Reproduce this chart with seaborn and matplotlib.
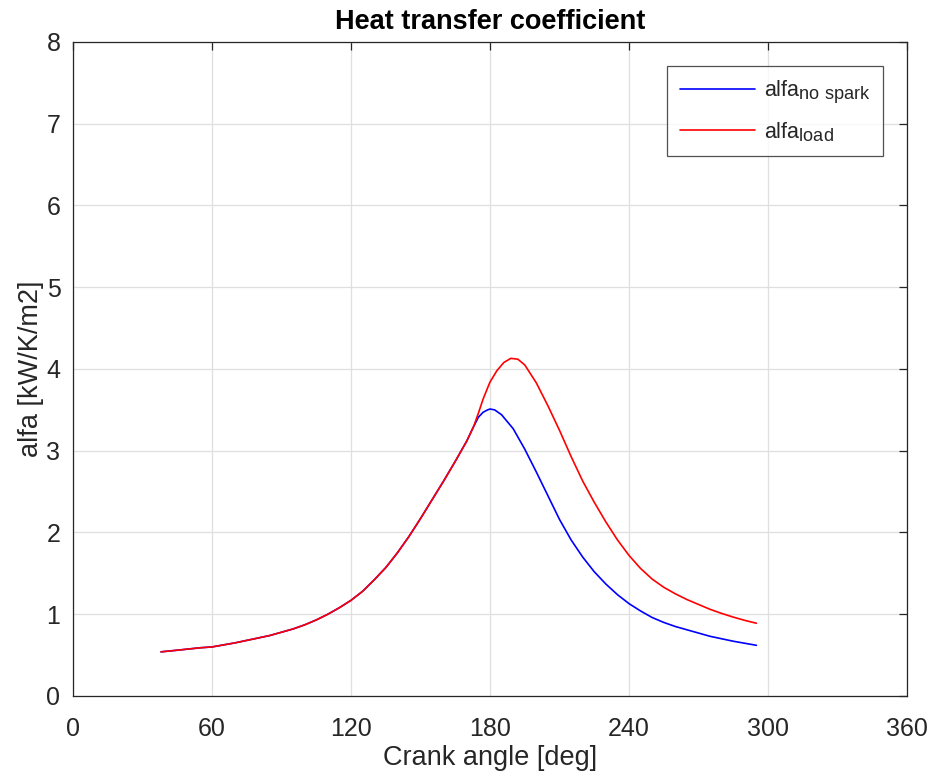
import numpy as np
import pandas as pd
import matplotlib
matplotlib.use("Agg")
import matplotlib.pyplot as plt
import matplotlib._mathtext as _mt
import seaborn as sns

# shared rising branch (both curves coincide)
common_angle = [38, 45, 50, 55, 60, 65, 70, 75, 80, 85, 90, 95, 100, 105, 110,
                115, 120, 125, 130, 135, 140, 145, 150, 155, 160, 165, 170, 173]
common_alfa = [0.54, 0.56, 0.575, 0.59, 0.60, 0.625, 0.65, 0.68, 0.71, 0.74, 0.78,
               0.82, 0.87, 0.93, 1.00, 1.08, 1.17, 1.28, 1.42, 1.57, 1.75, 1.95,
               2.17, 2.40, 2.63, 2.87, 3.12, 3.30]

nospark_angle = [175, 177, 179, 180, 182, 185, 190, 195, 200, 205, 210, 215, 220, 225,
                 230, 235, 240, 245, 250, 255, 260, 265, 270, 275, 280, 285, 290, 295]
nospark_alfa = [3.41, 3.47, 3.50, 3.51, 3.50, 3.44, 3.27, 3.02, 2.74, 2.45, 2.16, 1.91,
                1.70, 1.52, 1.37, 1.24, 1.13, 1.04, 0.96, 0.90, 0.85, 0.81, 0.77,
                0.73, 0.70, 0.67, 0.645, 0.62]

load_angle = [175, 177, 180, 183, 186, 189, 192, 195, 200, 205, 210, 215, 220, 225,
              230, 235, 240, 245, 250, 255, 260, 265, 270, 275, 280, 285, 290, 295]
load_alfa = [3.46, 3.63, 3.84, 3.98, 4.08, 4.13, 4.12, 4.05, 3.83, 3.55, 3.25, 2.93,
             2.63, 2.37, 2.13, 1.91, 1.72, 1.56, 1.43, 1.33, 1.25, 1.18, 1.12, 1.06,
             1.01, 0.965, 0.925, 0.89]

x_ticks = [0, 60, 120, 180, 240, 300, 360]
y_ticks = [0, 1, 2, 3, 4, 5, 6, 7, 8]

lab_ns = r'alfa$_{\mathrm{no\ spark}}$'
lab_ld = r'alfa$_{\mathrm{load}}$'

df = pd.concat([
    pd.DataFrame({"angle": common_angle + nospark_angle,
                  "alfa": common_alfa + nospark_alfa, "series": lab_ns}),
    pd.DataFrame({"angle": common_angle + load_angle,
                  "alfa": common_alfa + load_alfa, "series": lab_ld}),
], ignore_index=True)

sns.set_style("white")
plt.rcParams['font.family'] = ['Liberation Sans', 'DejaVu Sans']
plt.rcParams['mathtext.fontset'] = 'custom'
plt.rcParams['mathtext.rm'] = 'Liberation Sans'
plt.rcParams['mathtext.it'] = 'Liberation Sans:italic'
_mt.SHRINK_FACTOR = 0.84

fig = plt.figure(figsize=(9.31, 7.80), dpi=100)
ax = fig.add_axes([0.0784, 0.1077, 0.8958, 0.8385])

sns.lineplot(data=df, x="angle", y="alfa", hue="series", sort=False,
             palette={lab_ns: "#0000ff", lab_ld: "#ff0000"},
             linewidth=1.2, ax=ax, estimator=None)

ax.set_xlim(0, 360)
ax.set_ylim(0, 8)
ax.set_xticks(x_ticks)
ax.set_yticks(y_ticks)
ax.grid(True, color="#dfdfdf", linewidth=0.9)
ax.set_axisbelow(True)
for s in ax.spines.values():
    s.set_color("#262626")
    s.set_linewidth(0.9)
ax.tick_params(direction="in", length=6, width=0.9, top=True, right=True,
               labelsize=18, colors="#262626", labelcolor="#262626")
ax.tick_params(axis="x", pad=15)
ax.tick_params(axis="y", pad=9)
ax.set_xlabel("Crank angle [deg]", fontsize=19.5, color="#262626", labelpad=3)
ax.set_ylabel("alfa [kW/K/m2]", fontsize=19.5, color="#262626", labelpad=2)
ax.set_title("Heat transfer coefficient", fontsize=19.5, fontweight="bold",
             color="#000000", pad=9)

leg = ax.legend(loc="upper right", fontsize=15.5, frameon=True, fancybox=False,
                edgecolor="#262626", handlelength=3.5, handletextpad=0.4,
                borderaxespad=1.1, labelspacing=0.65, borderpad=0.6)
leg.get_frame().set_linewidth(0.9)

fig.savefig("out.png", dpi=100)
